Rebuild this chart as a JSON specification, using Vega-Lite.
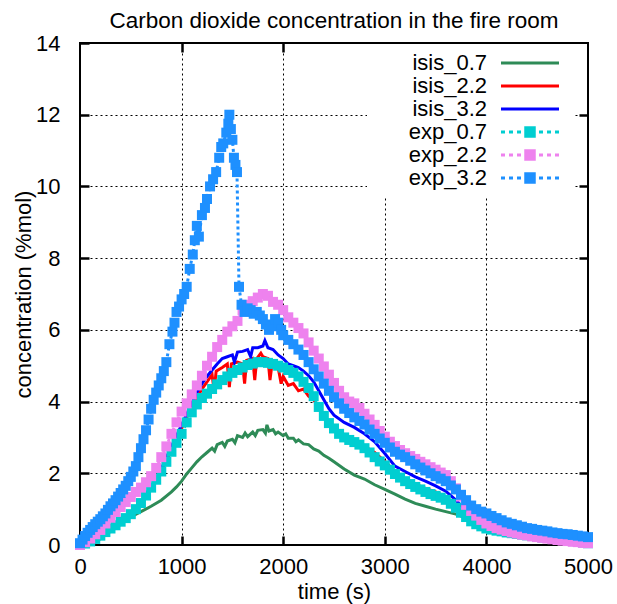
{
  "$schema": "https://vega.github.io/schema/vega-lite/v6.json",
  "width": 508,
  "height": 502,
  "autosize": {"type": "none"},
  "padding": {"left": 80, "top": 43, "right": 29, "bottom": 59},
  "title": {"text": "Carbon dioxide concentration in the fire room", "anchor": "middle", "offset": 0, "fontSize": 22.5, "fontWeight": "normal", "color": "black", "font": "Liberation Sans"},
  "config": {
    "font": "Liberation Sans",
    "view": {"stroke": "black", "strokeWidth": 2},
    "axis": {"labelFontSize": 22, "titleFontSize": 22, "labelColor": "black", "titleColor": "black", "titleFontWeight": "normal", "gridColor": "black", "gridDash": [2, 3], "gridOpacity": 1, "gridWidth": 1, "tickColor": "black", "tickSize": -9, "tickWidth": 2.5, "domain": false, "labelOverlap": false, "labelFlush": false}
  },
  "resolve": {"axis": {"x": "independent", "y": "independent"}},
  "datasets": {
    "isis07": [
      {"t":0,"v":0},{"t":100,"v":0.02},{"t":200,"v":0.18},{"t":300,"v":0.38},{"t":400,"v":0.58},{"t":500,"v":0.78},{"t":600,"v":0.93},{"t":700,"v":1.08},{"t":800,"v":1.25},{"t":900,"v":1.48},{"t":950,"v":1.62},{"t":1000,"v":1.78},{"t":1050,"v":1.98},{"t":1100,"v":2.15},{"t":1150,"v":2.32},{"t":1200,"v":2.46},{"t":1250,"v":2.58},{"t":1300,"v":2.7},{"t":1325,"v":2.62},{"t":1350,"v":2.8},{"t":1400,"v":2.86},{"t":1425,"v":2.75},{"t":1450,"v":2.9},{"t":1500,"v":2.95},{"t":1525,"v":2.85},{"t":1550,"v":3.05},{"t":1600,"v":3.0},{"t":1625,"v":3.12},{"t":1650,"v":3.02},{"t":1700,"v":3.15},{"t":1725,"v":3.05},{"t":1750,"v":3.2},{"t":1800,"v":3.22},{"t":1825,"v":3.12},{"t":1840,"v":3.35},{"t":1860,"v":3.18},{"t":1900,"v":3.22},{"t":1925,"v":3.1},{"t":1950,"v":3.15},{"t":2000,"v":3.05},{"t":2025,"v":3.1},{"t":2050,"v":2.98},{"t":2100,"v":2.98},{"t":2125,"v":2.88},{"t":2150,"v":2.93},{"t":2200,"v":2.82},{"t":2250,"v":2.8},{"t":2300,"v":2.68},{"t":2350,"v":2.62},{"t":2400,"v":2.5},{"t":2450,"v":2.42},{"t":2500,"v":2.32},{"t":2600,"v":2.12},{"t":2700,"v":1.95},{"t":2800,"v":1.84},{"t":2900,"v":1.68},{"t":3000,"v":1.55},{"t":3100,"v":1.42},{"t":3200,"v":1.28},{"t":3300,"v":1.16},{"t":3400,"v":1.08},{"t":3500,"v":1.0},{"t":3600,"v":0.93},{"t":3700,"v":0.86},{"t":3800,"v":0.75},{"t":3900,"v":0.62},{"t":4000,"v":0.5},{"t":4100,"v":0.42},{"t":4200,"v":0.34},{"t":4300,"v":0.28},{"t":4400,"v":0.22},{"t":4500,"v":0.17},{"t":4600,"v":0.13},{"t":4700,"v":0.1},{"t":4800,"v":0.07},{"t":4900,"v":0.05},{"t":5000,"v":0.04}
    ],
    "isis22": [
      {"t":0,"v":0},{"t":100,"v":0.02},{"t":150,"v":0.08},{"t":200,"v":0.18},{"t":300,"v":0.4},{"t":400,"v":0.62},{"t":500,"v":0.88},{"t":600,"v":1.15},{"t":700,"v":1.55},{"t":800,"v":2.05},{"t":900,"v":2.65},{"t":1000,"v":3.25},{"t":1100,"v":3.85},{"t":1150,"v":4.1},{"t":1200,"v":4.35},{"t":1250,"v":4.55},{"t":1300,"v":4.75},{"t":1320,"v":4.3},{"t":1340,"v":4.85},{"t":1400,"v":4.95},{"t":1450,"v":5.05},{"t":1470,"v":4.4},{"t":1490,"v":5.05},{"t":1550,"v":5.1},{"t":1600,"v":5.05},{"t":1620,"v":4.5},{"t":1640,"v":5.15},{"t":1700,"v":5.2},{"t":1720,"v":4.6},{"t":1740,"v":5.2},{"t":1780,"v":5.35},{"t":1800,"v":5.25},{"t":1850,"v":5.2},{"t":1870,"v":4.6},{"t":1890,"v":5.05},{"t":1950,"v":4.95},{"t":1980,"v":4.5},{"t":2000,"v":4.7},{"t":2050,"v":4.45},{"t":2100,"v":4.5},{"t":2150,"v":4.3},{"t":2200,"v":4.35},{"t":2250,"v":4.15},{"t":2300,"v":4.05},{"t":2400,"v":3.6},{"t":2500,"v":3.3},{"t":2600,"v":3.05},{"t":2700,"v":2.9},{"t":2800,"v":2.75},{"t":2900,"v":2.58},{"t":3000,"v":2.33},{"t":3100,"v":2.05},{"t":3200,"v":1.85},{"t":3300,"v":1.7},{"t":3400,"v":1.58},{"t":3500,"v":1.48},{"t":3600,"v":1.35},{"t":3700,"v":1.0},{"t":3800,"v":0.75},{"t":3900,"v":0.6},{"t":4000,"v":0.5},{"t":4200,"v":0.34},{"t":4400,"v":0.24},{"t":4600,"v":0.16},{"t":4800,"v":0.1},{"t":5000,"v":0.04}
    ],
    "isis32": [
      {"t":0,"v":0},{"t":100,"v":0.03},{"t":200,"v":0.2},{"t":300,"v":0.42},{"t":400,"v":0.66},{"t":500,"v":0.92},{"t":600,"v":1.18},{"t":700,"v":1.6},{"t":800,"v":2.12},{"t":900,"v":2.75},{"t":1000,"v":3.35},{"t":1100,"v":3.95},{"t":1150,"v":4.25},{"t":1200,"v":4.5},{"t":1250,"v":4.7},{"t":1300,"v":4.88},{"t":1350,"v":5.05},{"t":1400,"v":5.2},{"t":1450,"v":5.25},{"t":1500,"v":5.3},{"t":1520,"v":5.1},{"t":1550,"v":5.38},{"t":1600,"v":5.4},{"t":1650,"v":5.45},{"t":1680,"v":5.25},{"t":1700,"v":5.5},{"t":1750,"v":5.5},{"t":1800,"v":5.55},{"t":1820,"v":5.7},{"t":1850,"v":5.5},{"t":1900,"v":5.45},{"t":1950,"v":5.3},{"t":2000,"v":5.2},{"t":2050,"v":5.05},{"t":2100,"v":5.0},{"t":2150,"v":4.95},{"t":2200,"v":4.85},{"t":2250,"v":4.72},{"t":2300,"v":4.55},{"t":2350,"v":4.3},{"t":2400,"v":4.05},{"t":2450,"v":3.8},{"t":2500,"v":3.62},{"t":2600,"v":3.42},{"t":2700,"v":3.28},{"t":2800,"v":3.1},{"t":2900,"v":2.88},{"t":3000,"v":2.55},{"t":3100,"v":2.2},{"t":3200,"v":2.05},{"t":3300,"v":1.9},{"t":3400,"v":1.78},{"t":3500,"v":1.65},{"t":3600,"v":1.5},{"t":3700,"v":1.25},{"t":3800,"v":0.95},{"t":3900,"v":0.75},{"t":4000,"v":0.6},{"t":4200,"v":0.42},{"t":4400,"v":0.3},{"t":4600,"v":0.2},{"t":4800,"v":0.12},{"t":5000,"v":0.06}
    ],
    "exp07": [
      {"t":0,"v":0},{"t":50,"v":0.04},{"t":100,"v":0.1},{"t":150,"v":0.17},{"t":200,"v":0.26},{"t":250,"v":0.36},{"t":300,"v":0.46},{"t":350,"v":0.55},{"t":400,"v":0.65},{"t":450,"v":0.75},{"t":500,"v":0.86},{"t":550,"v":1.0},{"t":600,"v":1.17},{"t":650,"v":1.38},{"t":700,"v":1.6},{"t":750,"v":1.82},{"t":800,"v":2.05},{"t":850,"v":2.32},{"t":900,"v":2.6},{"t":950,"v":2.85},{"t":1000,"v":3.1},{"t":1050,"v":3.42},{"t":1100,"v":3.7},{"t":1150,"v":3.92},{"t":1200,"v":4.1},{"t":1250,"v":4.22},{"t":1300,"v":4.35},{"t":1350,"v":4.48},{"t":1400,"v":4.6},{"t":1450,"v":4.7},{"t":1500,"v":4.8},{"t":1550,"v":4.88},{"t":1600,"v":4.95},{"t":1650,"v":5.02},{"t":1700,"v":5.06},{"t":1750,"v":5.1},{"t":1800,"v":5.1},{"t":1850,"v":5.08},{"t":1900,"v":5.05},{"t":1950,"v":5.0},{"t":2000,"v":4.95},{"t":2050,"v":4.88},{"t":2100,"v":4.8},{"t":2150,"v":4.7},{"t":2200,"v":4.55},{"t":2250,"v":4.38},{"t":2300,"v":4.15},{"t":2350,"v":3.85},{"t":2400,"v":3.6},{"t":2450,"v":3.4},{"t":2500,"v":3.25},{"t":2550,"v":3.1},{"t":2600,"v":3.0},{"t":2650,"v":2.93},{"t":2700,"v":2.87},{"t":2750,"v":2.8},{"t":2800,"v":2.7},{"t":2850,"v":2.58},{"t":2900,"v":2.45},{"t":2950,"v":2.33},{"t":3000,"v":2.22},{"t":3050,"v":2.1},{"t":3100,"v":1.98},{"t":3150,"v":1.88},{"t":3200,"v":1.78},{"t":3250,"v":1.7},{"t":3300,"v":1.62},{"t":3350,"v":1.55},{"t":3400,"v":1.48},{"t":3450,"v":1.42},{"t":3500,"v":1.37},{"t":3550,"v":1.32},{"t":3600,"v":1.26},{"t":3650,"v":1.15},{"t":3700,"v":1.04},{"t":3750,"v":0.9},{"t":3800,"v":0.78},{"t":3850,"v":0.66},{"t":3900,"v":0.58},{"t":3950,"v":0.52},{"t":4000,"v":0.46},{"t":4050,"v":0.43},{"t":4100,"v":0.4},{"t":4150,"v":0.38},{"t":4200,"v":0.35},{"t":4250,"v":0.33},{"t":4300,"v":0.31},{"t":4350,"v":0.29},{"t":4400,"v":0.27},{"t":4450,"v":0.25},{"t":4500,"v":0.23},{"t":4550,"v":0.21},{"t":4600,"v":0.2},{"t":4650,"v":0.18},{"t":4700,"v":0.16},{"t":4750,"v":0.14},{"t":4800,"v":0.13},{"t":4850,"v":0.11},{"t":4900,"v":0.09},{"t":4950,"v":0.07},{"t":5000,"v":0.05}
    ],
    "exp22": [
      {"t":0,"v":0},{"t":50,"v":0.08},{"t":100,"v":0.18},{"t":150,"v":0.3},{"t":200,"v":0.42},{"t":250,"v":0.6},{"t":300,"v":0.76},{"t":350,"v":0.92},{"t":400,"v":1.06},{"t":450,"v":1.2},{"t":500,"v":1.34},{"t":550,"v":1.48},{"t":600,"v":1.6},{"t":650,"v":1.75},{"t":700,"v":1.92},{"t":750,"v":2.15},{"t":800,"v":2.45},{"t":850,"v":2.75},{"t":900,"v":3.1},{"t":950,"v":3.42},{"t":1000,"v":3.72},{"t":1050,"v":3.95},{"t":1100,"v":4.2},{"t":1150,"v":4.45},{"t":1200,"v":4.72},{"t":1250,"v":5.0},{"t":1300,"v":5.25},{"t":1350,"v":5.52},{"t":1400,"v":5.72},{"t":1450,"v":5.95},{"t":1500,"v":6.1},{"t":1550,"v":6.25},{"t":1600,"v":6.55},{"t":1650,"v":6.7},{"t":1700,"v":6.8},{"t":1750,"v":6.9},{"t":1800,"v":7.0},{"t":1850,"v":6.95},{"t":1900,"v":6.78},{"t":1950,"v":6.7},{"t":2000,"v":6.55},{"t":2050,"v":6.35},{"t":2100,"v":6.2},{"t":2150,"v":6.05},{"t":2200,"v":5.9},{"t":2250,"v":5.65},{"t":2300,"v":5.42},{"t":2350,"v":5.2},{"t":2400,"v":4.98},{"t":2450,"v":4.75},{"t":2500,"v":4.52},{"t":2550,"v":4.3},{"t":2600,"v":4.12},{"t":2650,"v":4.0},{"t":2700,"v":3.95},{"t":2750,"v":3.82},{"t":2800,"v":3.66},{"t":2850,"v":3.5},{"t":2900,"v":3.35},{"t":2950,"v":3.18},{"t":3000,"v":3.02},{"t":3050,"v":2.88},{"t":3100,"v":2.76},{"t":3150,"v":2.65},{"t":3200,"v":2.56},{"t":3250,"v":2.48},{"t":3300,"v":2.4},{"t":3350,"v":2.32},{"t":3400,"v":2.25},{"t":3450,"v":2.17},{"t":3500,"v":2.1},{"t":3550,"v":2.02},{"t":3600,"v":1.95},{"t":3650,"v":1.78},{"t":3700,"v":1.58},{"t":3750,"v":1.35},{"t":3800,"v":1.12},{"t":3850,"v":0.95},{"t":3900,"v":0.82},{"t":3950,"v":0.7},{"t":4000,"v":0.6},{"t":4050,"v":0.53},{"t":4100,"v":0.47},{"t":4150,"v":0.43},{"t":4200,"v":0.39},{"t":4250,"v":0.35},{"t":4300,"v":0.32},{"t":4350,"v":0.29},{"t":4400,"v":0.27},{"t":4450,"v":0.24},{"t":4500,"v":0.22},{"t":4550,"v":0.2},{"t":4600,"v":0.18},{"t":4650,"v":0.16},{"t":4700,"v":0.14},{"t":4750,"v":0.12},{"t":4800,"v":0.11},{"t":4850,"v":0.09},{"t":4900,"v":0.08},{"t":4950,"v":0.06},{"t":5000,"v":0.05}
    ],
    "exp32": [
      {"t":0,"v":0.05},{"t":25,"v":0.15},{"t":50,"v":0.25},{"t":75,"v":0.34},{"t":100,"v":0.42},{"t":125,"v":0.5},{"t":150,"v":0.58},{"t":175,"v":0.65},{"t":200,"v":0.72},{"t":225,"v":0.8},{"t":250,"v":0.88},{"t":275,"v":0.98},{"t":300,"v":1.08},{"t":325,"v":1.16},{"t":350,"v":1.25},{"t":375,"v":1.35},{"t":400,"v":1.45},{"t":425,"v":1.55},{"t":450,"v":1.65},{"t":475,"v":1.78},{"t":500,"v":1.9},{"t":525,"v":2.05},{"t":550,"v":2.2},{"t":575,"v":2.45},{"t":600,"v":2.7},{"t":625,"v":2.95},{"t":650,"v":3.2},{"t":675,"v":3.5},{"t":700,"v":3.8},{"t":725,"v":4.05},{"t":750,"v":4.25},{"t":775,"v":4.45},{"t":800,"v":4.65},{"t":825,"v":4.85},{"t":850,"v":5.1},{"t":880,"v":5.6},{"t":910,"v":5.95},{"t":930,"v":6.2},{"t":950,"v":6.5},{"t":975,"v":6.65},{"t":1000,"v":6.85},{"t":1025,"v":7.0},{"t":1050,"v":7.2},{"t":1080,"v":7.7},{"t":1110,"v":8.1},{"t":1130,"v":8.5},{"t":1150,"v":8.9},{"t":1170,"v":8.6},{"t":1200,"v":9.2},{"t":1230,"v":9.4},{"t":1250,"v":9.65},{"t":1280,"v":10.0},{"t":1310,"v":10.2},{"t":1340,"v":10.4},{"t":1370,"v":10.8},{"t":1390,"v":11.1},{"t":1410,"v":11.2},{"t":1440,"v":11.5},{"t":1460,"v":11.75},{"t":1470,"v":12.0},{"t":1485,"v":11.6},{"t":1500,"v":11.3},{"t":1515,"v":10.8},{"t":1530,"v":10.6},{"t":1545,"v":10.4},{"t":1565,"v":7.2},{"t":1590,"v":6.7},{"t":1620,"v":6.5},{"t":1650,"v":6.6},{"t":1680,"v":6.55},{"t":1710,"v":6.45},{"t":1740,"v":6.5},{"t":1770,"v":6.4},{"t":1800,"v":6.3},{"t":1830,"v":6.15},{"t":1860,"v":6.0},{"t":1890,"v":6.1},{"t":1920,"v":6.3},{"t":1950,"v":6.2},{"t":1980,"v":6.0},{"t":2000,"v":5.85},{"t":2050,"v":5.72},{"t":2100,"v":5.6},{"t":2150,"v":5.45},{"t":2200,"v":5.3},{"t":2250,"v":5.1},{"t":2300,"v":4.9},{"t":2350,"v":4.7},{"t":2400,"v":4.5},{"t":2450,"v":4.3},{"t":2500,"v":4.12},{"t":2550,"v":3.95},{"t":2600,"v":3.8},{"t":2650,"v":3.68},{"t":2700,"v":3.56},{"t":2750,"v":3.46},{"t":2800,"v":3.36},{"t":2850,"v":3.22},{"t":2900,"v":3.1},{"t":2950,"v":2.97},{"t":3000,"v":2.85},{"t":3050,"v":2.72},{"t":3100,"v":2.6},{"t":3150,"v":2.52},{"t":3200,"v":2.45},{"t":3250,"v":2.35},{"t":3300,"v":2.25},{"t":3350,"v":2.16},{"t":3400,"v":2.08},{"t":3450,"v":2.0},{"t":3500,"v":1.92},{"t":3550,"v":1.85},{"t":3600,"v":1.78},{"t":3650,"v":1.66},{"t":3700,"v":1.55},{"t":3750,"v":1.4},{"t":3800,"v":1.25},{"t":3850,"v":1.1},{"t":3900,"v":1.0},{"t":3950,"v":0.93},{"t":4000,"v":0.88},{"t":4050,"v":0.81},{"t":4100,"v":0.75},{"t":4150,"v":0.69},{"t":4200,"v":0.63},{"t":4250,"v":0.59},{"t":4300,"v":0.55},{"t":4350,"v":0.51},{"t":4400,"v":0.47},{"t":4450,"v":0.45},{"t":4500,"v":0.42},{"t":4550,"v":0.4},{"t":4600,"v":0.38},{"t":4650,"v":0.35},{"t":4700,"v":0.33},{"t":4750,"v":0.31},{"t":4800,"v":0.3},{"t":4850,"v":0.28},{"t":4900,"v":0.26},{"t":4950,"v":0.24},{"t":5000,"v":0.22}
    ]
  },
  "layer": [
    {
      "data": {"name": "isis07"},
      "mark": {"type": "line", "strokeWidth": 3},
      "encoding": {
        "x": {"field": "t", "type": "quantitative", "scale": {"domain": [0, 5000], "nice": false}, "axis": {"orient": "bottom", "values": [0, 1000, 2000, 3000, 4000, 5000], "format": "d", "title": "time (s)", "grid": true, "labelPadding": 20, "titleY": 36, "titleBaseline": "top"}},
        "y": {"field": "v", "type": "quantitative", "scale": {"domain": [0, 14], "nice": false}, "axis": {"orient": "left", "values": [0, 2, 4, 6, 8, 10, 12, 14], "format": "d", "title": "concentration (%mol)", "grid": true, "labelPadding": 29, "titleX": -50, "titleBaseline": "alphabetic"}},
        "color": {
          "datum": "isis_0.7", "type": "nominal",
          "scale": {"domain": ["isis_0.7", "isis_2.2", "isis_3.2", "exp_0.7", "exp_2.2", "exp_3.2"], "range": ["#2e8b57", "#ff0000", "#0000ff", "#00ced1", "#ee82ee", "#1e90ff"]},
          "legend": {
            "title": null, "orient": "none", "legendX": 287, "legendY": 1, "padding": 8, "fillColor": "white",
            "symbolSize": 100, "labelFontSize": 22, "labelColor": "black", "rowPadding": 1, "labelLimit": 300,
            "encode": {
              "symbols": {"update": {
                "shape": {"signal": "indexof(datum.value,'exp')===0 ? 'M-5.8,0H-5M-4.2,0H-3.4M-2.6,0H-1.8M-0.85,-0.85H0.85V0.85H-0.85ZM1.8,0H2.6M3.4,0H4.2M5,0H5.8' : 'M-5.8,0H5.8'"},
                "size": {"value": 100},
                "x": {"value": 155},
                "strokeWidth": {"value": 3},
                "stroke": {"signal": "scale('color', datum.value)"},
                "fill": {"signal": "indexof(datum.value,'exp')===0 ? scale('color', datum.value) : 'transparent'"},
                "opacity": {"value": 1},
                "strokeDash": {"value": []}
              }},
              "labels": {"update": {"x": {"value": 112}, "align": {"value": "right"}}}
            }
          }
        }
      }
    },
    {
      "data": {"name": "isis22"},
      "mark": {"type": "line", "strokeWidth": 3},
      "encoding": {
        "x": {"field": "t", "type": "quantitative", "axis": {"orient": "top", "values": [1000, 2000, 3000, 4000], "labels": false, "grid": false, "title": null}},
        "y": {"field": "v", "type": "quantitative", "axis": {"orient": "right", "values": [2, 4, 6, 8, 10, 12], "labels": false, "grid": false, "title": null}},
        "color": {"datum": "isis_2.2", "type": "nominal"}
      }
    },
    {
      "data": {"name": "isis32"},
      "mark": {"type": "line", "strokeWidth": 3},
      "encoding": {
        "x": {"field": "t", "type": "quantitative", "axis": null},
        "y": {"field": "v", "type": "quantitative", "axis": null},
        "color": {"datum": "isis_3.2", "type": "nominal"}
      }
    },
    {
      "data": {"name": "exp07"},
      "mark": {"type": "line", "strokeWidth": 3, "strokeDash": [3, 3]},
      "encoding": {
        "x": {"field": "t", "type": "quantitative", "axis": null},
        "y": {"field": "v", "type": "quantitative", "axis": null},
        "color": {"datum": "exp_0.7", "type": "nominal"}
      }
    },
    {
      "data": {"name": "exp07"},
      "mark": {"type": "point", "shape": "square", "filled": true, "size": 100, "opacity": 1},
      "encoding": {
        "x": {"field": "t", "type": "quantitative", "axis": null},
        "y": {"field": "v", "type": "quantitative", "axis": null},
        "color": {"datum": "exp_0.7", "type": "nominal"}
      }
    },
    {
      "data": {"name": "exp22"},
      "mark": {"type": "line", "strokeWidth": 3, "strokeDash": [3, 3]},
      "encoding": {
        "x": {"field": "t", "type": "quantitative", "axis": null},
        "y": {"field": "v", "type": "quantitative", "axis": null},
        "color": {"datum": "exp_2.2", "type": "nominal"}
      }
    },
    {
      "data": {"name": "exp22"},
      "mark": {"type": "point", "shape": "square", "filled": true, "size": 100, "opacity": 1},
      "encoding": {
        "x": {"field": "t", "type": "quantitative", "axis": null},
        "y": {"field": "v", "type": "quantitative", "axis": null},
        "color": {"datum": "exp_2.2", "type": "nominal"}
      }
    },
    {
      "data": {"name": "exp32"},
      "mark": {"type": "line", "strokeWidth": 3, "strokeDash": [3, 3]},
      "encoding": {
        "x": {"field": "t", "type": "quantitative", "axis": null},
        "y": {"field": "v", "type": "quantitative", "axis": null},
        "color": {"datum": "exp_3.2", "type": "nominal"}
      }
    },
    {
      "data": {"name": "exp32"},
      "mark": {"type": "point", "shape": "square", "filled": true, "size": 100, "opacity": 1},
      "encoding": {
        "x": {"field": "t", "type": "quantitative", "axis": null},
        "y": {"field": "v", "type": "quantitative", "axis": null},
        "color": {"datum": "exp_3.2", "type": "nominal"}
      }
    }
  ]
}
